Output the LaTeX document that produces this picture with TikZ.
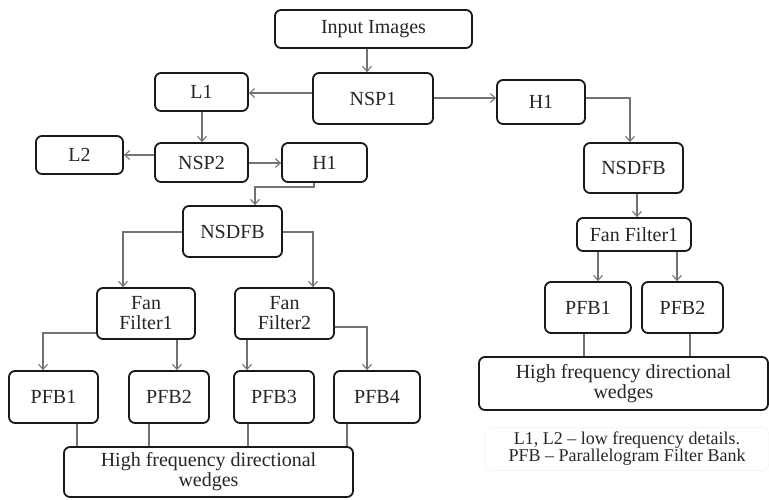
\documentclass[tikz,border=0pt]{standalone}
\usepackage{fontspec}
\setmainfont{Liberation Serif}
\usetikzlibrary{arrows.meta}
\begin{document}
\begin{tikzpicture}[x=1pt,y=-1pt,
  box/.style={draw=black!90, line width=1.8pt, rounded corners=6pt, inner sep=0pt, align=center,
    font=\fontsize{20}{21}\selectfont, text=black!85},
  arr/.style={draw=black!55, line width=1.1pt, -{Straight Barb[length=5pt,width=9pt]}},
  ln/.style={draw=black!55, line width=1.1pt}]
\useasboundingbox (0,0) rectangle (769,499);
\fill[white] (0,0) rectangle (769,499);
% nodes
\node[box, minimum width=197pt, minimum height=38pt] (inp) at (373.5,29) {Input Images};
\node[box, minimum width=120pt, minimum height=51pt] (nsp1) at (373,98.5) {NSP1};
\node[box, minimum width=93pt, minimum height=38pt] (l1) at (201.5,92) {L1};
\node[box, minimum width=88pt, minimum height=44pt] (h1r) at (541,102) {H1};
\node[box, minimum width=87pt, minimum height=38pt] (l2) at (79.5,155) {L2};
\node[box, minimum width=93pt, minimum height=39pt] (nsp2) at (201.5,162.5) {NSP2};
\node[box, minimum width=85pt, minimum height=39pt] (h1l) at (324.5,162.5) {H1};
\node[box, minimum width=99pt, minimum height=51pt] (nsdfbl) at (232.5,231.5) {NSDFB};
\node[box, minimum width=99pt, minimum height=50pt] (nsdfbr) at (633.5,168) {NSDFB};
\node[box, minimum width=114pt, minimum height=33pt] (ffr) at (634,234.5) {Fan Filter1};
\node[box, minimum width=98pt, minimum height=51pt] (ff1) at (146,313.5) {Fan\\[-1pt]Filter1};
\node[box, minimum width=99pt, minimum height=51pt] (ff2) at (284.5,313.5) {Fan\\[-1pt]Filter2};
\node[box, minimum width=89pt, minimum height=52pt] (pfb1) at (53.5,397) {PFB1};
\node[box, minimum width=80pt, minimum height=52pt] (pfb2) at (169,397) {PFB2};
\node[box, minimum width=80pt, minimum height=52pt] (pfb3) at (274,397) {PFB3};
\node[box, minimum width=86pt, minimum height=52pt] (pfb4) at (377,397) {PFB4};
\node[box, minimum width=289pt, minimum height=50pt] (hfl) at (208.5,472) {High frequency directional\\[-1pt]wedges};
\node[box, minimum width=86pt, minimum height=51pt] (pfbr1) at (588,307.5) {PFB1};
\node[box, minimum width=81pt, minimum height=51pt] (pfbr2) at (682.5,307.5) {PFB2};
\node[box, minimum width=289pt, minimum height=53pt] (hfr) at (623.5,383.5) {High frequency directional\\[-1pt]wedges};
\node[draw=black!4, rounded corners=8pt, line width=0.8pt, minimum width=284pt, minimum height=43pt,
  align=center, inner sep=0pt, font=\fontsize{18}{17}\selectfont, text=black!85] (leg) at (627,449)
  {L1, L2 -- low frequency details.\\PFB -- Parallelogram Filter Bank};
% connectors
\draw[arr] (inp.south -| 367,0) -- (nsp1.north -| 367,0);
\draw[arr] (nsp1.west |- 0,93) -- (l1.east |- 0,93);
\draw[arr] (nsp1.east |- 0,98) -- (h1r.west |- 0,98);
\draw[arr] (h1r.east |- 0,98) -| (nsdfbr.north -| 630,0);
\draw[arr] (l1.south -| 202,0) -- (nsp2.north -| 202,0);
\draw[arr] (nsp2.west |- 0,155) -- (l2.east |- 0,155);
\draw[arr] (nsp2.east |- 0,163) -- (h1l.west |- 0,163);
\draw[arr] (h1l.south -| 314,0) -- (314,187) -- (255,187) -- (nsdfbl.north -| 255,0);
\draw[arr] (nsdfbl.west |- 0,232) -| (ff1.north -| 123,0);
\draw[arr] (nsdfbl.east |- 0,232) -| (ff2.north -| 313,0);
\draw[arr] (ff1.west |- 0,333) -| (pfb1.north -| 43,0);
\draw[arr] (ff1.south -| 177,0) -- (pfb2.north -| 177,0);
\draw[arr] (ff2.south -| 247,0) -- (pfb3.north -| 247,0);
\draw[arr] (ff2.east |- 0,327) -| (pfb4.north -| 367,0);
\draw[ln] (pfb1.south -| 77,0) -- (hfl.north -| 77,0);
\draw[ln] (pfb2.south -| 149,0) -- (hfl.north -| 149,0);
\draw[ln] (pfb3.south -| 248,0) -- (hfl.north -| 248,0);
\draw[ln] (pfb4.south -| 347,0) -- (hfl.north -| 347,0);
\draw[arr] (nsdfbr.south -| 637,0) -- (ffr.north -| 637,0);
\draw[arr] (ffr.south -| 598,0) -- (pfbr1.north -| 598,0);
\draw[arr] (ffr.south -| 677,0) -- (pfbr2.north -| 677,0);
\draw[ln] (pfbr1.south -| 584,0) -- (hfr.north -| 584,0);
\draw[ln] (pfbr2.south -| 690,0) -- (hfr.north -| 690,0);
\end{tikzpicture}
\end{document}
